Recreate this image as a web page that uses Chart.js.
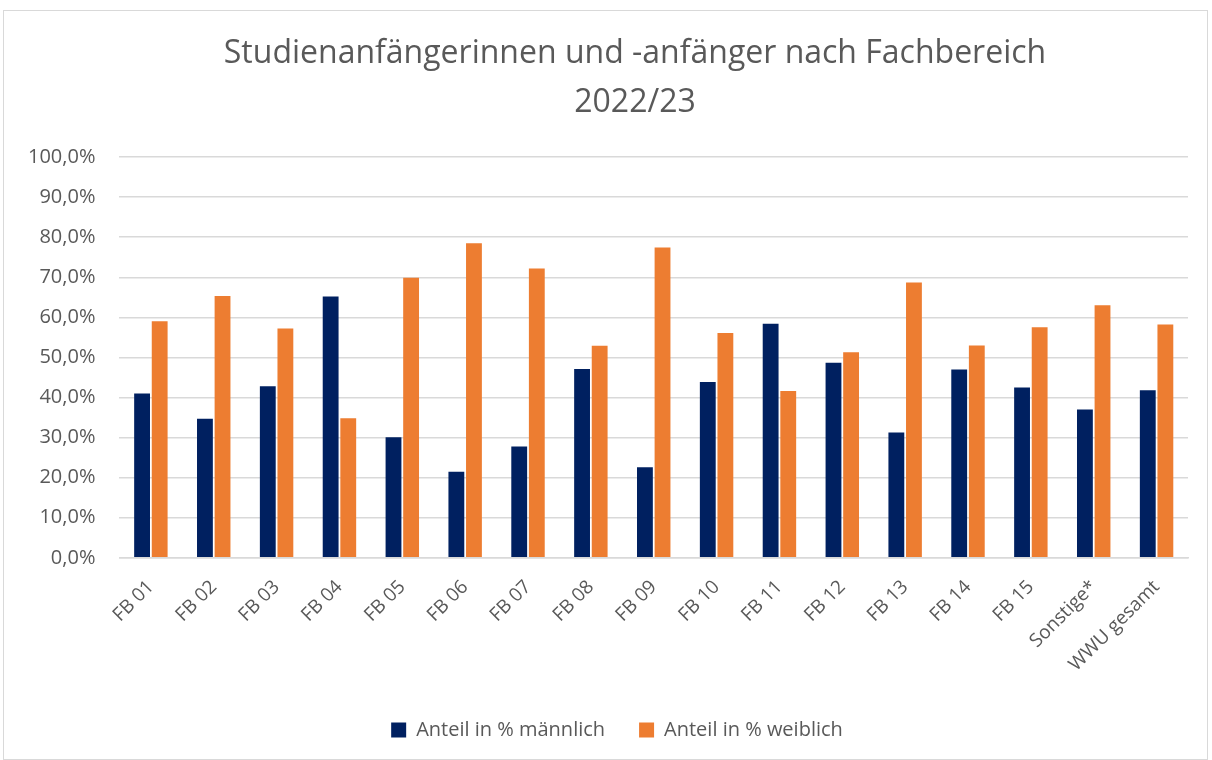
<!DOCTYPE html>
<html>
<head>
<meta charset="utf-8">
<script src="https://cdn.jsdelivr.net/npm/chart.js@4"></script>
<style>
  body { margin: 0; background: #fff; }
  .rahmen { position: absolute; left: 3px; top: 10px; width: 1203px; height: 748px; border: 1px solid #d9d9d9; }
  .titel { position: absolute; left: 0; top: 26px; width: 1270px; text-align: center;
           font-family: 'Open Sans', sans-serif; font-size: 32px; line-height: 49px; color: #595959; }
</style>
</head>
<body>
<div class="rahmen"><canvas id="grafico" width="1203" height="748"></canvas></div>
<div class="titel" id="titel"></div>
<script>
var kategorien = ["FB 01", "FB 02", "FB 03", "FB 04", "FB 05", "FB 06", "FB 07", "FB 08", "FB 09",
    "FB 10", "FB 11", "FB 12", "FB 13", "FB 14", "FB 15", "Sonstige*", "WWU gesamt"];
var maennlich = [41.0, 34.7, 42.8, 65.2, 30.1, 21.5, 27.8, 47.1, 22.6, 43.9, 58.4, 48.7, 31.3, 47.0, 42.5, 37.0, 41.8];
var weiblich = [59.0, 65.3, 57.2, 34.8, 69.9, 78.5, 72.2, 52.9, 77.4, 56.1, 41.6, 51.3, 68.7, 53.0, 57.5, 63.0, 58.2];
var titel = ["Studienanfängerinnen und -anfänger nach Fachbereich", "2022/23"];

// Titel als Text über dem Diagramm
document.getElementById('titel').innerHTML = titel.join('<br>');

var schrift = "'Open Sans', sans-serif";
var grau = "#595959";

// Legende etwas nach rechts schieben (wie im Original)
var legendeVersatz = {
    id: 'legendeVersatz',
    afterLayout: function (chart) {
        chart.legend.left += 21;
        chart.legend.right += 21;
    }
};

var ctx = document.getElementById('grafico').getContext('2d');
var myChart = new Chart(ctx, {
    type: 'bar',
    data: {
        labels: kategorien,
        datasets: [{
            label: 'Anteil in % männlich',
            data: maennlich,
            backgroundColor: '#002060',
            barPercentage: 0.9,
            categoryPercentage: 0.56
        }, {
            label: 'Anteil in % weiblich',
            data: weiblich,
            backgroundColor: '#ed7d31',
            barPercentage: 0.9,
            categoryPercentage: 0.56
        }]
    },
    plugins: [legendeVersatz],
    options: {
        responsive: false,
        animation: false,
        layout: { padding: { left: 0, right: 19, top: 146, bottom: 9 } },
        plugins: {
            title: { display: false },
            legend: {
                position: 'bottom',
                labels: {
                    color: grau,
                    font: { family: schrift, size: 20 },
                    boxWidth: 15,
                    boxHeight: 15,
                    padding: 34
                }
            },
            tooltip: { enabled: false }
        },
        scales: {
            x: {
                grid: { display: false },
                border: { color: '#d9d9d9', width: 1.5 },
                ticks: {
                    color: grau,
                    padding: 10,
                    font: { family: schrift, size: 19 },
                    maxRotation: 45,
                    minRotation: 45
                }
            },
            y: {
                min: 0,
                max: 100,
                border: { display: false },
                grid: { color: '#d9d9d9', lineWidth: 1.5, drawTicks: false },
                ticks: {
                    stepSize: 10,
                    color: grau,
                    padding: 24,
                    font: { family: schrift, size: 20 },
                    callback: function (v) { return v.toFixed(1).replace('.', ',') + '%'; }
                }
            }
        }
    }
});
</script>
</body>
</html>
